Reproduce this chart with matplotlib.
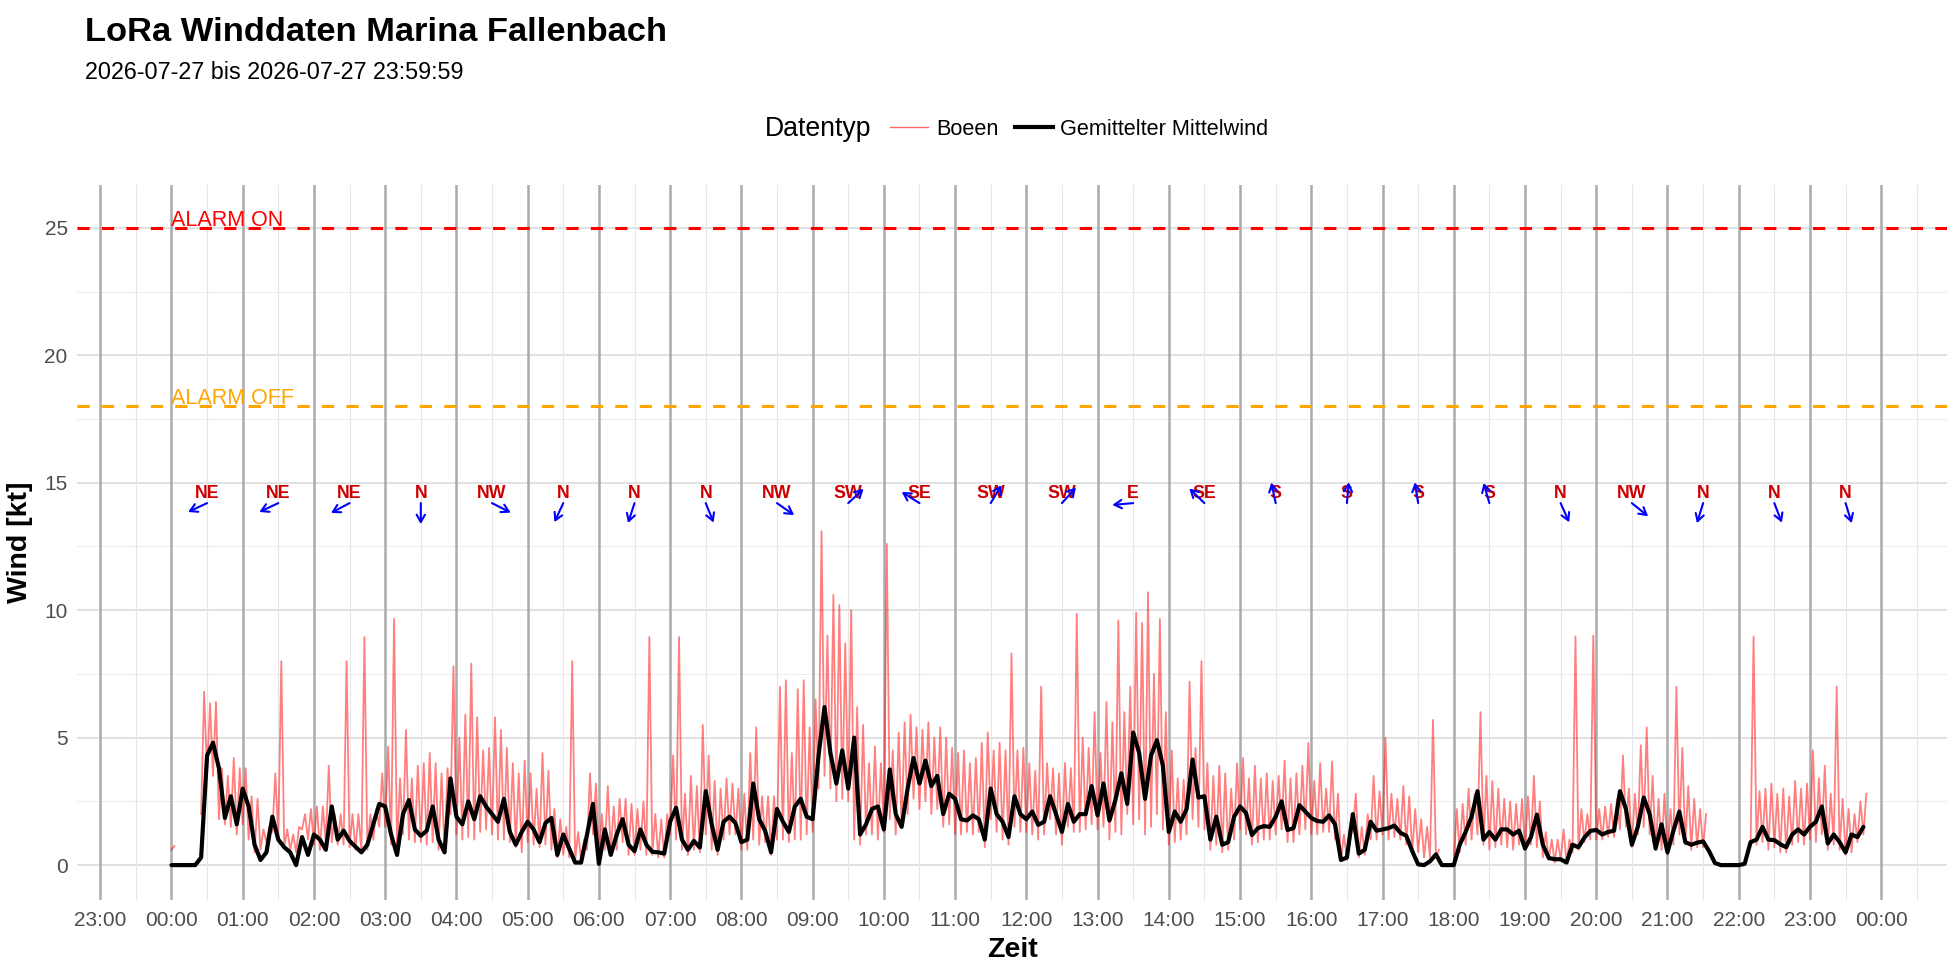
import numpy as np
import matplotlib.pyplot as plt
from matplotlib.lines import Line2D

plt.rcParams['font.family'] = ['Liberation Sans', 'DejaVu Sans']

#
# Daten, 5-Minuten-Raster ab 00:00
#
mittelwind = [
    0, 0, 0, 0, 0, 0.3, 4.3, 4.8, 3.8, 1.85, 2.7, 1.6,                  # 00
    3.0, 2.3, 0.8, 0.2, 0.5, 1.9, 1.0, 0.7, 0.5, 0.0, 1.1, 0.4,         # 01
    1.2, 1.0, 0.6, 2.3, 1.0, 1.35, 0.95, 0.72, 0.5, 0.8, 1.6, 2.4,      # 02
    2.3, 1.2, 0.4, 2.0, 2.55, 1.4, 1.15, 1.35, 2.3, 1.0, 0.5, 3.4,      # 03
    1.9, 1.6, 2.5, 1.8, 2.7, 2.3, 2.0, 1.7, 2.6, 1.3, 0.8, 1.3,         # 04
    1.7, 1.4, 0.9, 1.65, 1.85, 0.4, 1.2, 0.65, 0.1, 0.1, 1.2, 2.4,      # 05
    0.05, 1.4, 0.4, 1.2, 1.8, 0.8, 0.55, 1.4, 0.8, 0.52, 0.5, 0.45,     # 06
    1.7, 2.25, 1.0, 0.6, 0.95, 0.69, 2.9, 1.6, 0.6, 1.7, 1.9, 1.65,     # 07
    0.9, 1.0, 3.2, 1.8, 1.35, 0.5, 2.2, 1.7, 1.3, 2.3, 2.6, 1.9,        # 08
    1.8, 4.3, 6.2, 4.4, 3.2, 4.5, 3.0, 5.0, 1.2, 1.6, 2.2, 2.3,         # 09
    1.4, 3.75, 2.0, 1.5, 3.0, 4.2, 3.2, 4.1, 3.1, 3.5, 2.0, 2.8,        # 10
    2.6, 1.8, 1.75, 1.95, 1.8, 1.0, 3.0, 2.0, 1.7, 1.1, 2.7, 2.0,       # 11
    1.8, 2.1, 1.58, 1.7, 2.7, 2.0, 1.3, 2.4, 1.7, 2.0, 2.0, 3.1,        # 12
    1.95, 3.2, 1.75, 2.55, 3.6, 2.4, 5.2, 4.4, 2.6, 4.3, 4.9, 3.9,      # 13
    1.3, 2.1, 1.7, 2.2, 4.14, 2.65, 2.7, 1.0, 1.9, 0.8, 0.9, 1.9,       # 14
    2.3, 2.05, 1.18, 1.45, 1.53, 1.5, 1.9, 2.5, 1.38, 1.45, 2.35, 2.1,  # 15
    1.85, 1.73, 1.7, 1.95, 1.6, 0.2, 0.3, 2.0, 0.45, 0.6, 1.7, 1.35,    # 16
    1.4, 1.45, 1.55, 1.27, 1.15, 0.55, 0.03, 0.0, 0.15, 0.42, 0.0, 0.0, # 17
    0.0, 0.8, 1.3, 1.9, 2.9, 1.0, 1.3, 1.0, 1.4, 1.4, 1.2, 1.35,        # 18
    0.65, 1.1, 1.98, 0.8, 0.28, 0.23, 0.23, 0.1, 0.8, 0.7, 1.08, 1.34,  # 19
    1.38, 1.2, 1.3, 1.35, 2.9, 2.2, 0.8, 1.5, 2.65, 2.0, 0.65, 1.6,     # 20
    0.5, 1.35, 2.1, 0.9, 0.8, 0.88, 0.93, 0.55, 0.08, 0.0, 0.0, 0.0,    # 21
    0.0, 0.05, 0.9, 1.0, 1.5, 1.0, 0.98, 0.82, 0.7, 1.2, 1.4, 1.2,      # 22
    1.5, 1.7, 2.3, 0.85, 1.2, 0.9, 0.5, 1.2, 1.1, 1.5,                  # 23
]

nan = np.nan
# Boeen: Maximum und Minimum je 5-Minuten-Intervall
boeen_max = [
    0.75, nan, nan, nan, nan, 6.8, 6.35, 6.4, 3.8, 3.5, 4.2, 3.8,       # 00
    3.8, 2.7, 2.6, 1.4, 1.5, 3.6, 8.0, 1.4, 1.2, 1.5, 2.0, 2.2,         # 01
    2.3, 2.3, 3.9, 2.0, 2.0, 8.0, 2.0, 2.0, 8.95, 2.0, 2.2, 3.6,        # 02
    4.65, 9.66, 3.4, 5.3, 3.4, 3.9, 4.0, 4.4, 4.0, 3.6, 3.8, 7.8,       # 03
    5.0, 5.9, 7.9, 5.8, 4.5, 4.6, 5.8, 5.3, 4.6, 4.0, 3.6, 4.1,         # 04
    3.6, 3.0, 4.4, 3.7, 2.2, 1.8, 1.5, 8.0, 1.3, 1.0, 3.6, 3.2,         # 05
    2.0, 3.1, 2.3, 2.6, 2.6, 2.4, 2.2, 2.5, 8.95, 2.0, 1.8, 2.0,        # 06
    4.3, 8.95, 2.8, 3.5, 3.1, 5.5, 4.3, 3.3, 3.0, 3.4, 3.2, 3.0,        # 07
    2.8, 4.4, 5.4, 2.7, 2.7, 2.7, 7.0, 7.25, 4.4, 6.9, 7.25, 5.4,       # 08
    6.5, 13.1, 9.0, 10.6, 10.2, 8.7, 10.0, 6.2, 5.5, 4.0, 4.65, 4.0,    # 09
    12.6, 4.5, 5.2, 5.6, 5.9, 5.4, 5.3, 5.6, 5.0, 5.4, 5.0, 4.6,        # 10
    4.4, 4.5, 4.0, 4.2, 4.8, 5.2, 4.5, 4.8, 4.5, 8.3, 4.5, 4.6,         # 11
    4.0, 3.7, 7.0, 4.0, 3.8, 3.6, 4.0, 3.8, 9.86, 5.0, 4.6, 6.0,        # 12
    4.4, 6.4, 5.6, 9.6, 6.0, 7.0, 9.9, 9.5, 10.7, 7.5, 9.66, 6.0,       # 13
    4.5, 3.4, 3.35, 7.2, 4.6, 8.0, 4.0, 3.5, 3.9, 3.6, 3.0, 4.0,        # 14
    4.2, 3.4, 3.9, 3.4, 3.6, 3.3, 3.5, 4.1, 3.4, 3.6, 3.9, 4.8,         # 15
    3.3, 4.0, 3.0, 4.07, 2.8, 1.2, 1.5, 2.8, 1.5, 2.0, 3.5, 2.9,        # 16
    5.0, 2.8, 2.6, 3.1, 2.7, 2.2, 1.8, 1.5, 5.7, 0.6, nan, nan,         # 17
    2.2, 2.4, 3.0, 2.8, 6.0, 3.5, 3.3, 3.0, 2.6, 2.5, 2.4, 2.6,         # 18
    2.7, 3.5, 2.5, 1.3, 1.0, 1.0, 1.4, 1.0, 8.97, 2.2, 2.0, 9.0,        # 19
    2.2, 2.3, 2.4, 2.6, 4.3, 3.0, 2.8, 4.7, 5.4, 3.5, 2.6, 2.8,         # 20
    2.2, 7.0, 4.6, 3.1, 2.6, 2.2, 2.0, nan, nan, nan, nan, nan,         # 21
    nan, nan, 8.97, 2.9, 3.0, 3.2, 2.8, 3.0, 2.7, 3.3, 3.0, 3.2,        # 22
    4.5, 3.4, 3.9, 2.8, 7.0, 2.6, 2.2, 2.0, 2.5, 2.8,                   # 23
]
boeen_min = [
    0.6, nan, nan, nan, nan, 2.0, 3.6, 3.5, 1.8, 1.6, 1.5, 1.2,         # 00
    1.6, 1.0, 0.5, 0.6, 0.9, 1.3, 1.0, 0.7, 0.6, 0.5, 1.4, 1.0,         # 01
    0.8, 0.6, 0.9, 0.9, 0.8, 0.8, 0.7, 0.6, 0.5, 0.6, 1.0, 1.5,         # 02
    1.5, 0.8, 0.6, 1.2, 1.0, 0.9, 0.9, 0.8, 0.9, 0.6, 0.5, 2.0,         # 03
    1.2, 1.0, 1.1, 1.0, 1.3, 1.4, 1.2, 1.0, 1.0, 0.9, 0.7, 0.5,         # 04
    0.9, 0.8, 0.7, 0.8, 0.6, 0.3, 0.4, 0.3, 0.2, 0.2, 0.6, 1.2,         # 05
    0.2, 0.6, 0.5, 0.6, 0.9, 0.4, 0.4, 0.6, 0.4, 0.4, 0.3, 0.3,         # 06
    1.2, 1.0, 0.6, 0.4, 0.6, 0.5, 1.2, 0.6, 0.4, 1.0, 1.2, 1.2,         # 07
    0.6, 0.6, 1.0, 0.8, 0.9, 0.4, 1.0, 1.0, 0.9, 1.0, 1.0, 1.2,         # 08
    1.3, 3.0, 3.5, 3.0, 2.5, 2.6, 2.5, 1.0, 0.8, 1.2, 1.2, 1.0,         # 09
    1.3, 1.8, 1.2, 1.5, 2.0, 2.6, 2.2, 2.5, 2.0, 2.2, 1.5, 1.6,         # 10
    1.2, 1.2, 1.3, 1.2, 1.3, 0.7, 1.8, 1.3, 1.0, 0.8, 1.5, 1.3,         # 11
    1.3, 1.2, 1.0, 1.2, 1.8, 1.2, 0.8, 1.5, 1.3, 1.3, 1.4, 1.6,         # 12
    1.4, 1.5, 1.0, 1.3, 1.2, 2.0, 1.6, 1.8, 1.2, 1.5, 2.0, 1.4,         # 13
    0.8, 0.9, 1.0, 1.2, 1.8, 1.5, 1.4, 0.6, 0.8, 0.5, 0.6, 1.0,         # 14
    1.4, 1.2, 0.8, 0.9, 1.0, 1.0, 1.2, 1.4, 0.9, 0.9, 1.2, 1.4,         # 15
    1.2, 1.2, 1.3, 1.3, 1.0, 0.2, 0.2, 1.3, 0.3, 0.4, 1.0, 1.0,         # 16
    1.2, 1.0, 1.1, 1.0, 0.8, 0.5, 0.5, 0.3, 0.3, 0.3, nan, nan,         # 17
    0.1, 0.5, 0.8, 1.0, 1.2, 0.8, 0.6, 0.7, 0.8, 0.7, 0.6, 0.8,         # 18
    0.6, 0.8, 0.7, 0.3, 0.2, 0.1, 0.2, 0.1, 0.5, 0.6, 0.9, 1.0,         # 19
    1.0, 1.0, 1.1, 1.1, 1.4, 1.5, 0.7, 1.2, 1.5, 1.2, 0.6, 0.6,         # 20
    0.4, 0.8, 1.2, 0.8, 0.6, 0.7, 0.7, nan, nan, nan, nan, nan,         # 21
    nan, nan, 0.8, 0.8, 0.9, 0.6, 0.7, 0.5, 0.5, 0.8, 0.9, 0.8,         # 22
    1.0, 0.9, 1.2, 0.6, 0.8, 0.6, 0.4, 0.5, 0.9, 1.2,                   # 23
]

# Windrichtung je Stunde (Mitte der Stunde)
richtung_label = ['NE', 'NE', 'NE', 'N', 'NW', 'N', 'N', 'N', 'NW', 'SW', 'SE', 'SW',
                  'SW', 'E', 'SE', 'S', 'S', 'S', 'S', 'N', 'NW', 'N', 'N', 'N']
richtung_grad = [65, 65, 62, 0, 297, 25, 18, 338, 305, 227, 122, 211,
                 222, 85, 134, 168, 185, 171, 164, 336, 309, 17, 339, 343]

alarm_on = 25
alarm_off = 18
stunden_labels = ['23:00'] + ['%02d:00' % h for h in range(24)] + ['00:00']

#
# Zeitachsen (Stunden ab 00:00)
#
t_mittel = np.arange(len(mittelwind)) * 5 / 60.
t_boe = np.column_stack((np.arange(len(boeen_min)) * 5,
                         np.arange(len(boeen_min)) * 5 + 2.5)).ravel() / 60.
v_boe = np.column_stack((boeen_min, boeen_max)).ravel()
t_richtung = np.arange(len(richtung_label)) + 0.5

#
# Grafik
#
fig = plt.figure(figsize=(19.6, 9.8), dpi=100)
ax = fig.add_axes([0.0395, 0.0816, 0.9541, 0.7294])

ax.set_xlim(-1.32, 24.93)
ax.set_ylim(-1.37, 26.67)

for y in np.arange(2.5, 25, 5):
    ax.axhline(y, color='#ededed', lw=0.8, zorder=0)
for y in np.arange(0, 26, 5):
    ax.axhline(y, color='#d9d9d9', lw=1.1, zorder=0)
for h in np.arange(-1.5, 25, 1.0):
    ax.axvline(h, color='#e6e6e6', lw=0.8, zorder=0)
for h in range(-1, 25):
    ax.axvline(h, color='#ababab', lw=1.8, zorder=1)

ax.plot(t_boe, v_boe, color='#ff0000', alpha=0.5, lw=1.3, zorder=2)
ax.plot(t_mittel, mittelwind, color='black', lw=3.0, zorder=3,
        solid_joinstyle='round', solid_capstyle='round')

ax.axhline(alarm_on, color='#ff0000', lw=2.2, ls=(0, (4, 4)), zorder=4)
ax.axhline(alarm_off, color='#ffa500', lw=2.2, ls=(0, (4, 4)), zorder=4)
ax.text(0, alarm_on + 0.3, 'ALARM ON', color='#ff0000', fontsize=15.5,
        ha='left', va='center', zorder=5)
ax.text(0, alarm_off + 0.3, 'ALARM OFF', color='#ffa500', fontsize=15.5,
        ha='left', va='center', zorder=5)

L = 15.1  # Pfeillaenge in Punkten
for t, lab, deg in zip(t_richtung, richtung_label, richtung_grad):
    ax.text(t, 14.58, lab, color='#cc0000', fontsize=12.8, fontweight='bold',
            ha='center', va='center', zorder=6)
    b = np.deg2rad(deg + 180)
    ax.annotate('', xy=(t, 14.2), xytext=(L * np.sin(b), L * np.cos(b)),
                textcoords='offset points', zorder=7,
                arrowprops=dict(arrowstyle='<-, head_length=0.35, head_width=0.2',
                                color='#0000ff', lw=1.5, shrinkA=0, shrinkB=0,
                                mutation_scale=15))

ax.set_xticks(range(-1, 25))
ax.set_xticklabels(stunden_labels)
ax.set_yticks(range(0, 26, 5))
ax.tick_params(length=0, labelsize=15, labelcolor='#4d4d4d')
ax.tick_params(axis='x', pad=8)
ax.tick_params(axis='y', pad=7)
for s in ax.spines.values():
    s.set_visible(False)

ax.set_xlabel('Zeit', fontsize=20.5, fontweight='bold', labelpad=5)
ax.set_ylabel('Wind [kt]', fontsize=20.5, fontweight='bold', labelpad=8)

fig.text(0.0434, 0.958, 'LoRa Winddaten Marina Fallenbach', fontsize=24.8,
         fontweight='bold', ha='left', va='baseline')
fig.text(0.0434, 0.919, '2026-07-27 bis 2026-07-27 23:59:59', fontsize=16.8,
         ha='left', va='baseline')

fig.text(765 / 1960, 0.868, 'Datentyp', fontsize=19.2, ha='left', va='center')
handles = [Line2D([], [], color='#ff0000', alpha=0.6, lw=1.0),
           Line2D([], [], color='black', lw=3.0)]
fig.legend(handles, ['Boeen', 'Gemittelter Mittelwind'], ncol=2, frameon=False,
           loc='center left', bbox_to_anchor=(890 / 1960, 0.868),
           borderaxespad=0, borderpad=0, fontsize=15.6, handlelength=1.77,
           handletextpad=0.35, columnspacing=0.75)

fig.savefig('out.png', dpi=100)
